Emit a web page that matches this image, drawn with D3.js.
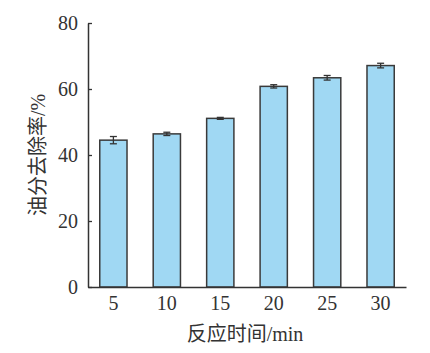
<!DOCTYPE html>
<html>
<head>
<meta charset="utf-8">
<script src="https://cdn.jsdelivr.net/npm/d3@7"></script>
<style>
  body { margin: 0; background: #fff; }
  svg { display: block; }
</style>
</head>
<body>
<div id="chart"></div>
<script>
// 反应时间 (min) 与油分去除率 (%)
var times = ["5", "10", "15", "20", "25", "30"];
var removal = [44.5, 46.4, 51.1, 60.8, 63.4, 67.1];
var errors = [1.1, 0.5, 0.3, 0.5, 0.7, 0.7];
var yTicks = [0, 20, 40, 60, 80];

var width = 430, height = 353;
var margin = { top: 23, right: 24, bottom: 66, left: 88 };

var svg = d3.select("#chart").append("svg")
  .attr("width", width)
  .attr("height", height);

var x = d3.scaleBand()
  .domain(times)
  .range([margin.left, width - margin.right])
  .paddingInner(0.49)
  .paddingOuter(0.22);

var y = d3.scaleLinear()
  .domain([0, 80])
  .range([height - margin.bottom, margin.top]);

var data = times.map(function(t, i) {
  return { t: t, v: removal[i], e: errors[i] };
});

var numFont = "'Liberation Serif', 'DejaVu Serif', serif";
var cjkFont = "'Liberation Serif', 'Noto Sans CJK SC', serif";

// bars
svg.append("g")
  .selectAll("rect")
  .data(data)
  .enter().append("rect")
  .attr("x", function(d) { return x(d.t); })
  .attr("y", function(d) { return y(d.v); })
  .attr("width", x.bandwidth())
  .attr("height", function(d) { return y(0) - y(d.v); })
  .attr("fill", "#a0d8f3")
  .attr("stroke", "#3a3a3a")
  .attr("stroke-width", 1.5);

// error bars
var eb = svg.append("g")
  .attr("stroke", "#333")
  .attr("stroke-width", 1.3)
  .selectAll("g")
  .data(data)
  .enter().append("g");

eb.append("line")
  .attr("x1", function(d) { return x(d.t) + x.bandwidth() / 2; })
  .attr("x2", function(d) { return x(d.t) + x.bandwidth() / 2; })
  .attr("y1", function(d) { return y(d.v + d.e); })
  .attr("y2", function(d) { return y(d.v - d.e); });

eb.selectAll(".cap")
  .data(function(d) { return [d.v + d.e, d.v - d.e].map(function(v) { return { t: d.t, v: v }; }); })
  .enter().append("line")
  .attr("x1", function(d) { return x(d.t) + x.bandwidth() / 2 - 3.5; })
  .attr("x2", function(d) { return x(d.t) + x.bandwidth() / 2 + 3.5; })
  .attr("y1", function(d) { return y(d.v); })
  .attr("y2", function(d) { return y(d.v); });

// y axis
var yAxis = svg.append("g")
  .attr("transform", "translate(" + margin.left + ",0)")
  .call(d3.axisLeft(y).tickValues(yTicks).tickSizeInner(-4).tickSizeOuter(0).tickPadding(10));
yAxis.select(".domain").attr("stroke", "#333").attr("stroke-width", 1.5);
yAxis.selectAll(".tick line").attr("stroke", "#333").attr("stroke-width", 1.3);
yAxis.selectAll("text")
  .attr("font-family", numFont)
  .attr("font-size", 20)
  .attr("fill", "#333");

// x axis
var xAxis = svg.append("g")
  .attr("transform", "translate(0," + y(0) + ")")
  .call(d3.axisBottom(x).tickSize(0).tickPadding(9));
xAxis.select(".domain").attr("stroke", "#333").attr("stroke-width", 1.5);
xAxis.selectAll("text")
  .attr("font-family", numFont)
  .attr("font-size", 20)
  .attr("fill", "#333");

// axis titles
svg.append("text")
  .attr("x", (margin.left + width - margin.right) / 2 - 2)
  .attr("y", 341)
  .attr("text-anchor", "middle")
  .attr("font-family", cjkFont)
  .attr("font-size", 20)
  .attr("fill", "#333")
  .text("反应时间/min");

svg.append("text")
  .attr("transform", "translate(45," + ((margin.top + y(0)) / 2) + ") rotate(-90)")
  .attr("text-anchor", "middle")
  .attr("font-family", cjkFont)
  .attr("font-size", 20)
  .attr("fill", "#333")
  .text("油分去除率/%");
</script>
</body>
</html>
